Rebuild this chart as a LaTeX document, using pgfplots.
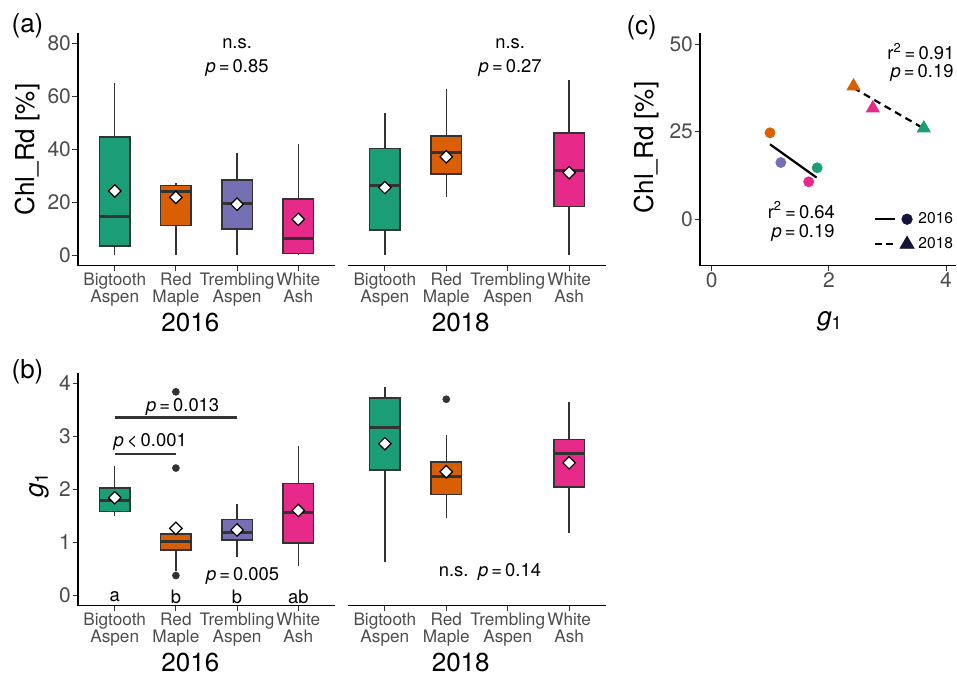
\documentclass[border=0pt]{standalone}
\usepackage{fontspec}
\setmainfont{TeX Gyre Heros}
\usepackage{pgfplots}
\pgfplotsset{compat=1.18}
\usepgfplotslibrary{statistics}
\definecolor{dgreen}{HTML}{1B9E77}
\definecolor{dorange}{HTML}{D95F02}
\definecolor{dpurple}{HTML}{7570B3}
\definecolor{dpink}{HTML}{E7298A}
\definecolor{gbox}{HTML}{333333}
\definecolor{tickgrey}{HTML}{4D4D4D}
\definecolor{navy}{HTML}{141438}
\newcommand{\ann}{\fontsize{9.2}{10}\selectfont}
\newcommand{\bp}[7]{\addplot[fill=#1, draw=gbox, boxplot prepared={draw position=#2, lower whisker=#3, lower quartile=#4, median=#5, upper quartile=#6, upper whisker=#7}] coordinates {};}
\pgfplotsset{
  base/.style={scale only axis, height=116.2pt, anchor=south west,
    axis line style={line width=0.7pt, black}, tick align=outside, major tick length=2.75pt,
    tick style={line width=0.5pt, black!80},
    ticklabel style={font=\fontsize{10.5}{11}\selectfont, text=tickgrey, inner sep=0.6pt},
    /pgf/number format/assume math mode=true, clip=false,
    label style={font=\fontsize{13}{14}\selectfont}},
  cat/.style={base, xmin=0.4, xmax=4.6, xtick={1,2,3,4},
    xticklabels={{Bigtooth\\Aspen},{Red\\Maple},{Trembling\\Aspen},{White\\Ash}},
    xticklabel style={align=center, font=\fontsize{8.6}{8.7}\selectfont},
    axis x line*=bottom,
    xlabel style={at={(axis description cs:0.437,-0.243)}, anchor=center},
    boxplot/draw direction=y,
    boxplot/box extend=0.5, boxplot/whisker extend=0,
    boxplot/every median/.style={line width=1.5pt},
    boxplot/every whisker/.style={line width=0.7pt},
    boxplot/every box/.style={line width=0.8pt}},
  lefty/.style={axis y line*=left},
  righty/.style={hide y axis},
  meanmark/.style={only marks, mark=square*, mark size=2.2pt, mark options={rotate=45, fill=white, draw=black, line width=0.6pt}},
  outl/.style={only marks, mark=*, mark size=1.7pt, mark options={fill=gbox, draw=gbox}},
}
\begin{document}
\begin{tikzpicture}
\path[use as bounding box] (0pt,0pt) rectangle (478.5pt,338pt);
% (a) 2016
\begin{axis}[cat, lefty, at={(39pt,205.15pt)}, width=128.5pt, ymin=-4, ymax=83.7,
  ytick={0,20,40,60,80}, ylabel={Chl\_Rd [\%]},
  ylabel style={at={(axis description cs:-0.198,0.5)}, anchor=center}, xlabel={2016}]
\bp{dgreen}{1}{0}{3.5}{14.5}{44.6}{64.8}
\bp{dorange}{2}{0}{11.1}{23.9}{26.2}{27.3}
\bp{dpurple}{3}{0}{9.9}{19.6}{28.3}{38.6}
\bp{dpink}{4}{0}{0.6}{6.3}{21.1}{42.1}
\addplot[meanmark] coordinates {(1,24.2) (2,21.8) (3,19.2) (4,13.5)};
\node[font=\ann] at (axis cs:3,79.7) {n.s.};
\node[font=\ann] at (axis cs:3,70.7) {\textit{p}\,=\,0.85};
\end{axis}
% (a) 2018
\begin{axis}[cat, righty, at={(174pt,205.15pt)}, width=129pt, ymin=-4, ymax=83.7, xlabel={2018}]
\bp{dgreen}{1}{0}{9.5}{26.3}{40.3}{53.7}
\bp{dorange}{2}{22.0}{30.6}{38.9}{44.9}{62.5}
\bp{dpink}{4}{0}{18.4}{31.8}{46.0}{66.0}
\addplot[meanmark] coordinates {(1,25.5) (2,37.1) (4,31.1)};
\node[font=\ann] at (axis cs:3.04,79.7) {n.s.};
\node[font=\ann] at (axis cs:3.04,70.7) {\textit{p}\,=\,0.27};
\end{axis}
% (b) 2016
\begin{axis}[cat, lefty, at={(39pt,35.15pt)}, width=128.5pt, ymin=-0.2, ymax=4.19,
  ytick={0,1,2,3,4}, ylabel={\textit{g}\textsubscript{1}},
  ylabel style={at={(axis description cs:-0.152,0.52)}, anchor=center}, xlabel={2016}]
\bp{dgreen}{1}{1.49}{1.58}{1.79}{2.02}{2.43}
\bp{dorange}{2}{0.45}{0.85}{1.01}{1.16}{1.16}
\bp{dpurple}{3}{0.72}{1.04}{1.18}{1.43}{1.73}
\bp{dpink}{4}{0.55}{0.98}{1.57}{2.11}{2.81}
\addplot[outl] coordinates {(2,3.84) (2,2.40) (2,0.37)};
\addplot[meanmark] coordinates {(1,1.84) (2,1.26) (3,1.23) (4,1.60)};
\addplot[gbox, line width=1.4pt] coordinates {(1,3.36) (3,3.36)};
\addplot[gbox, line width=1pt] coordinates {(1,2.67) (2,2.67)};
\node[font=\ann] at (axis cs:2.11,3.56) {\textit{p}\,=\,0.013};
\node[font=\ann] at (axis cs:1.58,2.90) {\textit{p}\,<\,0.001};
\node[font=\ann] at (axis cs:3.09,0.365) {\textit{p}\,=\,0.005};
\node[font=\ann] at (axis cs:1,-0.03) {a};
\node[font=\ann] at (axis cs:2,-0.03) {b};
\node[font=\ann] at (axis cs:3,-0.03) {b};
\node[font=\ann] at (axis cs:4,-0.03) {ab};
\end{axis}
% (b) 2018
\begin{axis}[cat, righty, at={(174pt,35.15pt)}, width=129pt, ymin=-0.2, ymax=4.19, xlabel={2018}]
\bp{dgreen}{1}{0.62}{2.36}{3.16}{3.72}{3.94}
\bp{dorange}{2}{1.46}{1.90}{2.25}{2.52}{3.03}
\bp{dpink}{4}{1.18}{2.04}{2.67}{2.94}{3.65}
\addplot[outl] coordinates {(2,3.70)};
\addplot[meanmark] coordinates {(1,2.86) (2,2.33) (4,2.50)};
\node[font=\ann] at (axis cs:2.12,0.44) {n.s.};
\node[font=\ann] at (axis cs:3.03,0.44) {\textit{p}\,=\,0.14};
\end{axis}
% (c)
\begin{axis}[base, at={(350pt,205.15pt)}, width=128pt, xmin=-0.2, xmax=4.17, ymin=-13.26, ymax=53.1,
  xtick={0,2,4}, ytick={0,25,50}, axis x line*=bottom, axis y line*=left,
  xlabel={\textit{g}\textsubscript{1}},
  xlabel style={at={(axis description cs:0.508,-0.238)}, anchor=center},
  ylabel={Chl\_Rd [\%]},
  ylabel style={at={(axis description cs:-0.208,0.509)}, anchor=center},
  legend style={at={(axis description cs:1.006,0.043)}, anchor=south east, draw=none, fill=none,
    font=\fontsize{7.8}{8}\selectfont, row sep=1.5pt, inner sep=0pt, legend cell align=left}]
\addplot[black, line width=1.1pt, forget plot] coordinates {(0.995,21.4) (1.79,11.9)};
\addplot[black, line width=1.1pt, dash pattern=on 3.5pt off 2.5pt, forget plot] coordinates {(2.42,37.5) (3.62,25.9)};
\addplot[only marks, mark=*, mark size=2.5pt, mark options={fill=dorange, draw=dorange}, forget plot] coordinates {(0.995,24.7)};
\addplot[only marks, mark=*, mark size=2.5pt, mark options={fill=dpurple, draw=dpurple}, forget plot] coordinates {(1.18,16.2)};
\addplot[only marks, mark=*, mark size=2.5pt, mark options={fill=dpink, draw=dpink}, forget plot] coordinates {(1.655,10.7)};
\addplot[only marks, mark=*, mark size=2.5pt, mark options={fill=dgreen, draw=dgreen}, forget plot] coordinates {(1.80,14.7)};
\addplot[only marks, mark=triangle*, mark size=3.7pt, mark options={fill=dorange, draw=dorange}, forget plot] coordinates {(2.42,38.0)};
\addplot[only marks, mark=triangle*, mark size=3.7pt, mark options={fill=dpink, draw=dpink}, forget plot] coordinates {(2.75,31.7)};
\addplot[only marks, mark=triangle*, mark size=3.7pt, mark options={fill=dgreen, draw=dgreen}, forget plot] coordinates {(3.62,26.0)};
\addlegendimage{legend image code/.code={\draw[line width=1.1pt,black] (0pt,0pt) -- (10pt,0pt); \fill[navy] (15.8pt,0pt) circle (2.6pt);}}
\addlegendentry{2016}
\addlegendimage{legend image code/.code={\draw[line width=1.1pt,black,dash pattern=on 3.5pt off 2pt] (0pt,0pt) -- (10pt,0pt); \fill[navy] (12.3pt,-2pt) -- (19.3pt,-2pt) -- (15.8pt,4pt) -- cycle;}}
\addlegendentry{2018}
\node[font=\ann] at (axis cs:3.57,47.9) {r\textsuperscript{2}\,=\,0.91};
\node[font=\ann] at (axis cs:3.59,41.7) {\textit{p}\,=\,0.19};
\node[font=\ann] at (axis cs:1.53,2.7) {r\textsuperscript{2}\,=\,0.64};
\node[font=\ann] at (axis cs:1.56,-4.0) {\textit{p}\,=\,0.19};
\end{axis}
\node[font=\fontsize{13}{14}\selectfont] at (13.75pt,325.1pt) {(a)};
\node[font=\fontsize{13}{14}\selectfont] at (13.75pt,152.15pt) {(b)};
\node[font=\fontsize{13}{14}\selectfont] at (320.85pt,324.25pt) {(c)};
\end{tikzpicture}
\end{document}
